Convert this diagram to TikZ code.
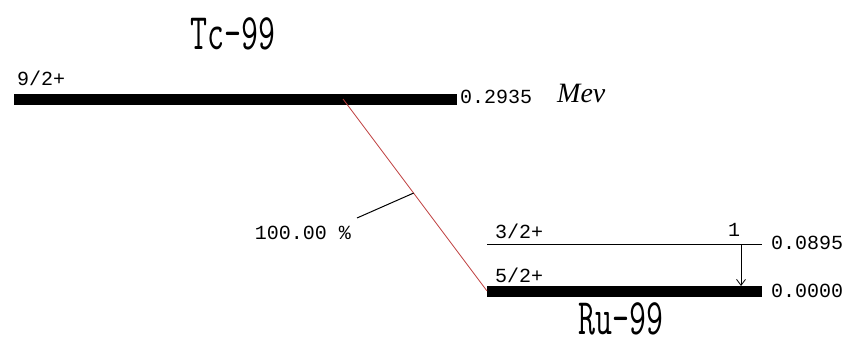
\documentclass[tikz,border=0pt]{standalone}
\usepackage{fontspec}
\setmainfont{Liberation Serif}
\newfontfamily\pixfont{Liberation Mono}
\usepackage{tikz}
\usetikzlibrary{arrows.meta, calc}

\begin{document}
\begin{tikzpicture}[x=1pt, y=-1pt,
    every node/.style={font=\pixfont\fontsize{20}{20}\selectfont, inner sep=0pt},
    level/.style={line width=11pt},
    sublevel/.style={line width=1pt},
    nuclide/.style={font=\ttfamily\fontsize{33}{33}\selectfont},
    betaline/.style={draw={rgb,255:red,190;green,60;blue,60}, line width=0.8pt}]
  \useasboundingbox (0,0) rectangle (851,345);

  % level ends
  \coordinate (tcL) at (14,99);
  \coordinate (tcR) at (457,99);
  \coordinate (exL) at (487,244);
  \coordinate (exR) at (762,244);
  \coordinate (ruL) at (487,291);
  \coordinate (ruR) at (762,291);

  \draw[level] (tcL) -- (tcR);
  \draw[sublevel] (exL) -- (exR);
  \draw[level] (ruL) -- (ruR);

  \node[nuclide] (tc) at (233,34) {\scalebox{1}[1.55]{Tc-99}};
  \node[nuclide] (ru) at (621,319) {\scalebox{1}[1.55]{Ru-99}};

  % spins and energies
  \foreach \name/\pos/\txt in {s1/{17,85}/{9/2+}, s2/{495,238}/{3/2+}, s3/{495,282}/{5/2+}}
    \node[anchor=base west] (\name) at (\pos) {\txt};
  \foreach \name/\pos/\txt in {e1/{460,97}/0.2935, e2/{771,243}/0.0895, e3/{771,291}/0.0000}
    \node[anchor=west] (\name) at (\pos) {\txt};
  \node[anchor=west, font=\itshape\fontsize{28}{28}\selectfont] (unit) at (557,93) {Mev};

  % beta branch
  \coordinate (bstart) at (343,99);
  \draw[betaline] (bstart) -- (ruL) coordinate[pos=0.49] (bmid);
  \node (pct) at (303,233) {100.00 \%};
  \coordinate (ptip) at (357,218);
  \draw[line width=1pt] (bmid) -- (ptip);

  % gamma
  \coordinate (gtop) at (741,244);
  \coordinate (gbot) at (741,286);
  \draw[line width=0.8pt, -{Straight Barb[length=6pt,width=9pt]}] (gtop) -- (gbot);
  \node (gi) at (734,230) {1};
\end{tikzpicture}
\end{document}
